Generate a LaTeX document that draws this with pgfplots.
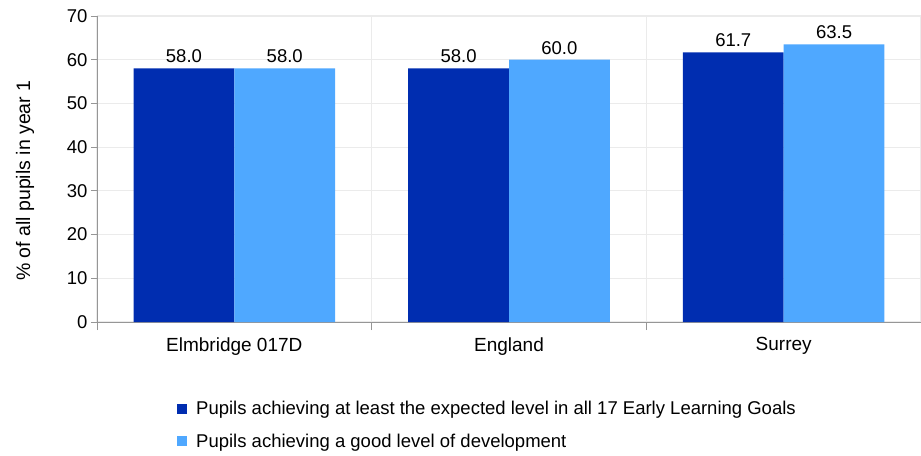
\documentclass[border=0pt]{standalone}
\usepackage{fontspec}
\setmainfont{Liberation Sans}
\usepackage{pgfplots}
\pgfplotsset{compat=1.18}
\definecolor{darkb}{RGB}{0,45,176}
\definecolor{lightb}{RGB}{79,168,255}
\definecolor{gridc}{RGB}{235,235,235}
\definecolor{axc}{RGB}{150,150,150}
\begin{document}
\begin{tikzpicture}[font=\fontsize{18.5bp}{21bp}\selectfont]
\begin{axis}[
  name=ax,
  scale only axis,
  width=824bp, height=306bp,
  ybar=0pt,
  bar width=0.367,
  xmin=-0.5, xmax=2.5,
  ymin=0, ymax=70,
  ytick={0,10,...,70},
  xtick={0,1,2},
  xticklabels={Elmbridge 017D,England,Surrey},
  minor xtick={-0.5,0.5,1.5,2.5},
  major x tick style={draw=none},
  minor x tick style={axc, thick},
  minor tick length=8bp,
  major tick length=6bp,
  tick align=outside,
  ytick style={axc, thick},
  axis x line*=bottom,
  axis y line*=left,
  axis line style={axc, thick, -},
  ymajorgrids, xminorgrids,
  grid style={gridc, line width=1.2pt},
  minor grid style={gridc, line width=1.2pt},
  every x tick label/.append style={yshift=-6bp, font=\fontsize{19bp}{22bp}\selectfont},
  ylabel={\% of all pupils in year 1},
  every axis y label/.style={at={(axis description cs:-0.0874,0.462)}, rotate=90, anchor=center, font=\fontsize{19.5bp}{22bp}\selectfont},
  /pgf/number format/assume math mode=true,
  nodes near coords,
  nodes near coords style={/pgf/number format/fixed, /pgf/number format/fixed zerofill, /pgf/number format/precision=1, /pgf/number format/assume math mode=true, yshift=2bp, black},
  legend style={at={(0.0935,-0.245)}, anchor=north west, draw=none, fill=none,
    row sep=14bp, font=\fontsize{18.5bp}{21bp}\selectfont},
  legend cell align=left,
  legend image code/.code={\fill[#1] (0bp,-5bp) rectangle (10bp,5bp); \path (17bp,0bp);},
]
\addplot[fill=darkb, draw=none] coordinates {(0,58.0) (1,58.0) (2,61.7)};
\addplot[fill=lightb, draw=none] coordinates {(0,58.0) (1,60.0) (2,63.5)};
\legend{Pupils achieving at least the expected level in all 17 Early Learning Goals, Pupils achieving a good level of development}
\end{axis}
\pgfresetboundingbox
\path ([xshift=-97bp,yshift=-134bp]ax.south west) rectangle ([yshift=16bp]ax.north east);
\end{tikzpicture}
\end{document}
